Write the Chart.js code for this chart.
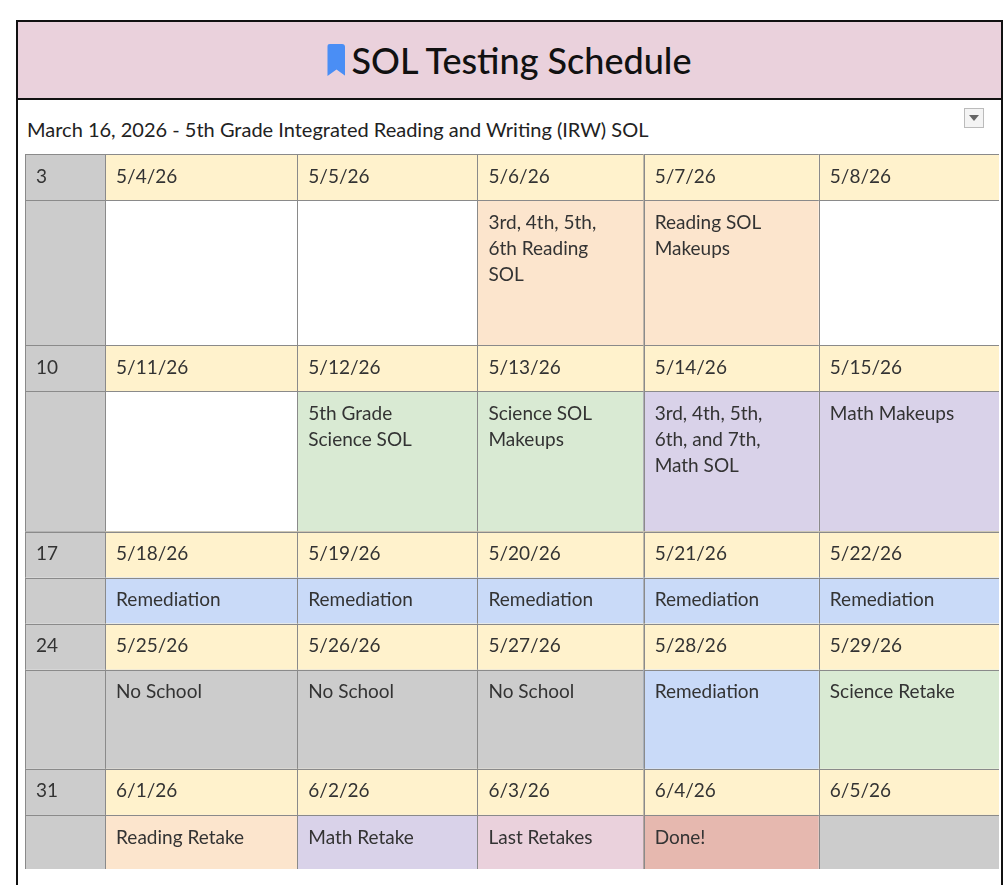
<!DOCTYPE html>
<html><head><meta charset="utf-8">
<script src="https://cdn.jsdelivr.net/npm/chart.js@4"></script>
<style>
body{margin:0;background:#fff;font-family:Lato,"Open Sans",sans-serif;}
#frame{position:absolute;left:16px;top:20px;width:983px;height:880px;border-left:2px solid #111;border-right:2px solid #111;}
#hdr{position:absolute;left:16px;top:20px;width:983px;height:76px;background:#ead1dc;border:2px solid #111;display:flex;align-items:center;justify-content:center;font-size:36px;color:#111;font-weight:500;}
#hdr .bm{display:inline-block;width:18px;height:32px;background:#4a8ef5;margin-right:6px;clip-path:polygon(0 0,100% 0,100% 100%,50% 80%,0 100%);border-radius:3px 3px 0 0}
#sub{position:absolute;left:27px;top:117px;font-size:20px;color:#222;}
#dd{position:absolute;left:964px;top:108px;width:18px;height:18px;border:1px solid #bbb;background:#f4f4f4}
#dd:after{content:"";position:absolute;left:4px;top:6px;border-left:5px solid transparent;border-right:5px solid transparent;border-top:6px solid #666}
#wrap{position:absolute;left:25px;top:154px;width:974px;height:715px;}
</style></head><body>
<div id="frame"></div>
<div id="hdr"><span class="bm"></span>SOL Testing Schedule</div>
<div id="sub">March 16, 2026 - 5th Grade Integrated Reading and Writing (IRW) SOL</div>
<div id="dd"></div>
<div id="wrap"><canvas id="c"></canvas></div>
<script>
const weekLabels = ['3','10','17','24','31'];
const dateRows = [
 ['5/4/26','5/5/26','5/6/26','5/7/26','5/8/26'],
 ['5/11/26','5/12/26','5/13/26','5/14/26','5/15/26'],
 ['5/18/26','5/19/26','5/20/26','5/21/26','5/22/26'],
 ['5/25/26','5/26/26','5/27/26','5/28/26','5/29/26'],
 ['6/1/26','6/2/26','6/3/26','6/4/26','6/5/26']
];
const eventRows = [
 ['','','3rd, 4th, 5th,\n6th Reading\nSOL','Reading SOL\nMakeups',''],
 ['','5th Grade\nScience SOL','Science SOL\nMakeups','3rd, 4th, 5th,\n6th, and 7th,\nMath SOL','Math Makeups'],
 ['Remediation','Remediation','Remediation','Remediation','Remediation'],
 ['No School','No School','No School','Remediation','Science Retake'],
 ['Reading Retake','Math Retake','Last Retakes','Done!','']
];
const eventColors = [
 ['#ffffff','#ffffff','#fce5cd','#fce5cd','#ffffff'],
 ['#ffffff','#d9ead3','#d9ead3','#d9d2e9','#d9d2e9'],
 ['#c9daf8','#c9daf8','#c9daf8','#c9daf8','#c9daf8'],
 ['#cccccc','#cccccc','#cccccc','#c9daf8','#d9ead3'],
 ['#fce5cd','#d9d2e9','#ead1dc','#e6b8af','#cccccc']
];
const colEdges = [0,80,272,452,618,793,973];
const rowEdges = [0,46,191,237,377,423,469,515,614,660,714];

const cellPlugin = {
 id:'cells',
 afterDraw(chart){
  const {ctx, scales:{x,y}} = chart;
  ctx.save();
  ctx.font = '19px Lato, "Open Sans", sans-serif';
  ctx.textBaseline = 'top';
  for(let w=0; w<weekLabels.length; w++){
   for(let r=0;r<2;r++){
    const ri = w*2+r;
    const y0=y.getPixelForValue(rowEdges[ri]), y1=y.getPixelForValue(rowEdges[ri+1]);
    for(let c=0;c<6;c++){
     const x0=x.getPixelForValue(colEdges[c]), x1=x.getPixelForValue(colEdges[c+1]);
     let fill, text;
     if(c===0){fill='#cccccc'; text = r===0?weekLabels[w]:'';}
     else if(r===0){fill='#fff2cc'; text=dateRows[w][c-1];}
     else {fill=eventColors[w][c-1]; text=eventRows[w][c-1];}
     ctx.fillStyle=fill; ctx.fillRect(x0,y0,x1-x0,y1-y0);
     ctx.strokeStyle='#8a8a8a'; ctx.lineWidth=1;
     ctx.strokeRect(Math.round(x0)+0.5,Math.round(y0)+0.5,x1-x0,y1-y0);
     ctx.fillStyle='#333';
     text.split('\n').forEach((t,i)=>ctx.fillText(t,x0+11,y0+13+i*26));
    }
   }
  }
  ctx.restore();
 }
};

new Chart(document.getElementById('c'),{
 type:'scatter',
 data:{datasets:[{data:[]}]},
 options:{
  responsive:true, maintainAspectRatio:false, animation:false,
  layout:{padding:0},
  plugins:{legend:{display:false},tooltip:{enabled:false}},
  scales:{
   x:{type:'linear',min:0,max:973,display:false},
   y:{type:'linear',min:0,max:714,reverse:true,display:false}
  }
 },
 plugins:[cellPlugin]
});
</script>
</body></html>
